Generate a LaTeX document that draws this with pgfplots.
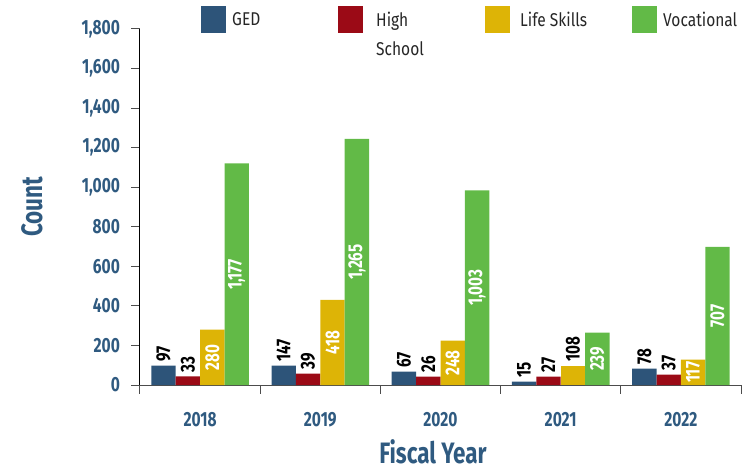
\documentclass[border=0pt]{standalone}
\usepackage{fontspec}
\setmainfont{Fira Sans}
\newfontfamily\cond{Fira Sans}[FakeStretch=0.76]
\newfontfamily\legfont{Fira Sans}[FakeStretch=0.84]
\usepackage{pgfplots}
\pgfplotsset{compat=1.18}

\definecolor{ged}{HTML}{2D5479}
\definecolor{hs}{HTML}{9B0A16}
\definecolor{ls}{HTML}{DDB406}
\definecolor{voc}{HTML}{62BA47}
\definecolor{axblue}{HTML}{2F5A80}

\pgfplotsset{
  sq/.style={legend image code/.code={\path[##1,draw=none] (0pt,-13.5pt) rectangle (25pt,13.5pt);}},
  above/.style={nodes near coords, point meta=explicit symbolic,
    every node near coord/.append style={shift={(0pt,4pt)}, rotate=90, anchor=west,
      inner sep=0pt, text=black, font=\cond\bfseries\fontsize{20}{22}\selectfont}},
  inside/.style={nodes near coords, point meta=explicit symbolic,
    visualization depends on={rawy \as \rawy},
    every node near coord/.append style={shift={(axis direction cs:0,-\rawy/2)}, rotate=90,
      anchor=center, inner sep=0pt, text=white, font=\cond\bfseries\fontsize{20}{22}\selectfont}},
}

\begin{document}
\begin{tikzpicture}
\begin{axis}[
  name=ax,
  scale only axis,
  width=601pt, height=356pt,
  ybar, bar width=24.4pt,
  xmin=-0.5, xmax=4.5, ymin=0, ymax=1800,
  axis x line*=bottom, axis y line*=left,
  x axis line style={black!70, line width=1pt},
  y axis line style={black, line width=1pt},
  tick align=outside,
  major tick length=8.5pt,
  tick style={black!70, line width=1pt},
  xtick={-0.5,0.5,...,4.5},
  xticklabels={,,,,,},
  extra x ticks={0,1,2,3,4},
  extra x tick labels={2018,2019,2020,2021,2022},
  extra x tick style={tick style={draw=none}, xticklabel style={yshift=-15pt}},
  ytick={0,200,...,1800},
  /pgf/number format/.cd, 1000 sep={,}, assume math mode=true, /pgfplots/.cd,
  tick label style={text=axblue, font=\cond\bfseries\fontsize{20.5}{22}\selectfont},
  yticklabel style={xshift=-8pt},
  ylabel={Count},
  xlabel={Fiscal Year},
  label style={text=axblue, font=\cond\bfseries\fontsize{29.5}{31}\selectfont},
  ylabel style={at={(axis description cs:-0.18,0.5)}, anchor=center},
  xlabel style={at={(axis description cs:0.4875,-0.22)}, anchor=south, inner sep=0pt, text depth=0pt},
  legend columns=4,
  legend style={draw=none, fill=none, at={(0.1015,1.066)}, anchor=north west,
    column sep=0pt, inner sep=0pt, nodes={inner sep=0pt, text depth=0pt},
    font=\legfont\fontsize{18.5}{20}\selectfont, text=black!85},
  clip=false,
]
\addplot[fill=ged, draw=none, bar shift=-36.6pt, sq, above] coordinates {
  (0,98) [97] (1,98) [147] (2,67) [67] (3,17) [15] (4,83) [78]};
\addlegendentry{\makebox[112pt][l]{\hspace{6pt}GED}}
\addplot[fill=hs, draw=none, bar shift=-12.2pt, sq, above] coordinates {
  (0,43) [33] (1,58) [39] (2,42) [26] (3,42) [27] (4,52) [37]};
\addlegendentry{\makebox[122pt][l]{\hspace{13pt}\smash{\rlap{\raisebox{-29pt}{School}}}High}}
\addplot[fill=ls, draw=none, bar shift=12.2pt, sq, inside] coordinates {
  (0,280) [280] (1,431) [418] (2,224) [248] (4,128) [117]};
\addlegendentry{\makebox[122pt][l]{\hspace{10pt}Life Skills}}
\addplot[fill=voc, draw=none, bar shift=36.6pt, sq, inside] coordinates {
  (0,1121) [{1,177}] (1,1244) [{1,265}] (2,984) [{1,003}] (3,265) [239] (4,698) [707]};
\addlegendentry{\hspace{6pt}Vocational}
\addplot[fill=ls, draw=none, bar shift=12.2pt, above, forget plot] coordinates {
  (3,98) [108]};
\end{axis}
\pgfresetboundingbox
\path[use as bounding box] ([xshift=-140pt,yshift=-86pt]ax.south west) rectangle ([xshift=3pt,yshift=29pt]ax.north east);
\end{tikzpicture}
\end{document}
